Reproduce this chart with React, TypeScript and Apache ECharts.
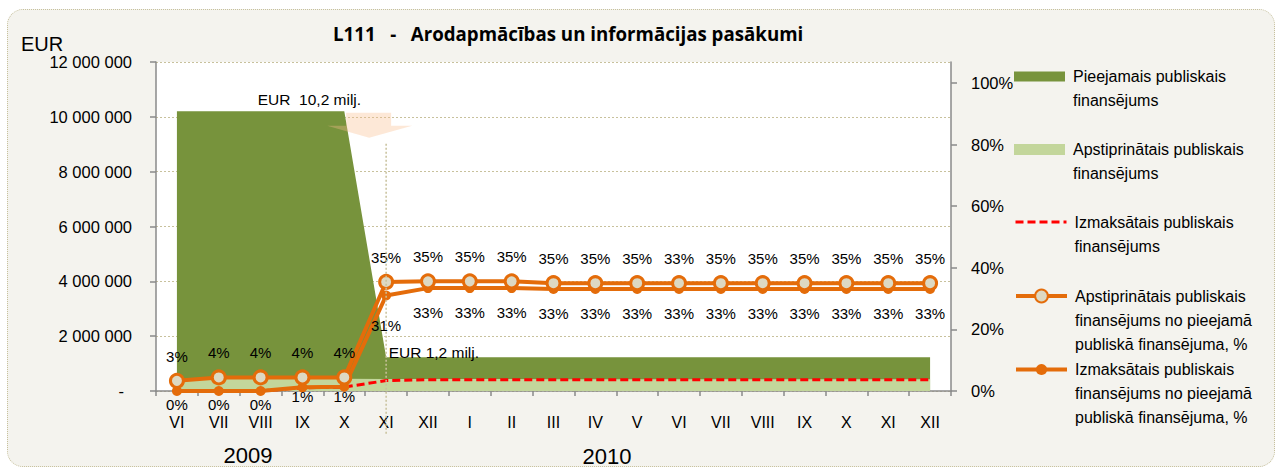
import React, { useEffect, useRef } from "react";
import * as echarts from "echarts";

// ---------- data ----------
const months2009 = ["VI", "VII", "VIII", "IX", "X", "XI", "XII"];
const months2010 = ["I", "II", "III", "IV", "V", "VI", "VII", "VIII", "IX", "X", "XI", "XII"];
const years = ["2009", "2010"];
const categories = [
  ...months2009.map((m) => `${m} ${years[0]}`),
  ...months2010.map((m) => `${m} ${years[1]}`),
];

const seriesNames = [
  "Pieejamais publiskais finansējums",
  "Apstiprinātais publiskais finansējums",
  "Izmaksātais publiskais finansējums",
  "Apstiprinātais publiskais finansējums no pieejamā publiskā finansējuma, %",
  "Izmaksātais publiskais finansējums no pieejamā publiskā finansējuma, %",
];

// EUR
const availableEur = [
  10200000, 10200000, 10200000, 10200000, 10200000,
  1230000, 1230000, 1230000, 1230000, 1230000, 1230000, 1230000,
  1230000, 1230000, 1230000, 1230000, 1230000, 1230000, 1230000,
];
const approvedEur = [
  340000, 450000, 450000, 450000, 450000,
  435000, 438000, 438000, 438000, 430000, 430000, 430000,
  430000, 430000, 430000, 430000, 430000, 430000, 430000,
];
const paidEur = [
  0, 0, 0, 120000, 140000,
  380000, 410000, 410000, 410000, 408000, 408000, 408000,
  408000, 408000, 408000, 408000, 408000, 408000, 408000,
];

// shares
const approvedPct = [
  0.033, 0.044, 0.044, 0.044, 0.044,
  0.354, 0.356, 0.356, 0.356, 0.35, 0.35, 0.35,
  0.35, 0.35, 0.35, 0.35, 0.35, 0.35, 0.35,
];
const approvedPctLabels = [
  "3%", "4%", "4%", "4%", "4%",
  "35%", "35%", "35%", "35%", "35%", "35%", "35%",
  "33%", "35%", "35%", "35%", "35%", "35%", "35%",
];
const paidPct = [
  0, 0, 0, 0.012, 0.014,
  0.31, 0.334, 0.334, 0.334, 0.331, 0.331, 0.331,
  0.331, 0.331, 0.331, 0.331, 0.331, 0.331, 0.331,
];

const title = "L111\u00a0\u00a0\u00a0-\u00a0\u00a0\u00a0Arodapmācības un informācijas pasākumi";
const unitLabel = "EUR";
const peakNote = "EUR\u00a0\u00a010,2 milj.";
const lowNote = "EUR 1,2 milj.";
const legendLines = [
  ["Pieejamais publiskais", "finansējums"],
  ["Apstiprinātais publiskais", "finansējums"],
  ["Izmaksātais publiskais", "finansējums"],
  ["Apstiprinātais publiskais", "finansējums no pieejamā", "publiskā finansējuma, %"],
  ["Izmaksātais publiskais", "finansējums no pieejamā", "publiskā finansējuma, %"],
];

// ---------- styles ----------
const SANS = '"Liberation Sans", Arial, sans-serif';
const DARK_GREEN = "#77933c";
const LIGHT_GREEN = "#c3d69b";
const ORANGE = "#e46c0a";
const RED = "#ff0000";
const BEIGE = "#ddd9c3";
const AXIS_GRAY = "#8a8a8a";
const GRID_DOT = "#c8c19c";

const fmtThousands = (v: number) => String(Math.round(v)).replace(/\B(?=(\d{3})+(?!\d))/g, " ");

function buildOption(): any {
  const legendDefs = [
    { icon: "rect", itemHeight: 10, center: 76.5 },
    { icon: "rect", itemHeight: 11, center: 149.5 },
    { icon: undefined, itemHeight: 14, center: 222, lineWidth: 3, hideSymbol: true },
    { icon: undefined, itemHeight: 16, center: 296, lineWidth: 4 },
    { icon: undefined, itemHeight: 14, center: 369.5, lineWidth: 4 },
  ];
  const LH = 24;
  const legend = legendDefs.map((d, i) => {
    const lines = legendLines[i];
    const n = lines.length;
    // leading blank lines so that the first text line sits level with the icon
    const text = [...Array(n - 1).fill(""), ...lines].join("\n");
    const item: any = { name: seriesNames[i] };
    if (d.icon) item.icon = d.icon;
    if (d.hideSymbol) item.itemStyle = { opacity: 0 };
    const lg: any = {
      orient: "vertical",
      left: 1014,
      top: d.center - ((2 * n - 1) * LH) / 2,
      padding: 0,
      itemWidth: 51,
      itemHeight: d.itemHeight,
      selectedMode: false,
      data: [item],
      formatter: () => text,
      textStyle: {
        fontFamily: SANS,
        fontSize: 16,
        lineHeight: LH,
        color: "#000",
        padding: [0, 0, 0, 3],
      },
    };
    if (d.lineWidth) lg.lineStyle = { width: d.lineWidth };
    return lg;
  });

  const labelFont = { fontFamily: SANS, fontSize: 15, color: "#000" };

  return {
    animation: false,
    backgroundColor: "transparent",
    title: {
      text: title,
      left: 333,
      top: 24,
      padding: 0,
      textStyle: { fontFamily: '"Open Sans", "Liberation Sans", sans-serif', fontWeight: "bold", fontSize: 18.7, color: "#000" },
    },
    legend,
    grid: {
      left: 156,
      right: 325,
      top: 62,
      bottom: 77,
      show: true,
      backgroundColor: "#ffffff",
      borderWidth: 0,
    },
    xAxis: {
      type: "category",
      data: categories,
      boundaryGap: true,
      axisLine: { show: true, lineStyle: { color: AXIS_GRAY, width: 1.5 } },
      axisTick: { show: true, length: 5, lineStyle: { color: AXIS_GRAY, width: 1.5 } },
      axisLabel: {
        interval: 0,
        margin: 23,
        formatter: (v: string) => v.split(" ")[0],
        fontFamily: SANS,
        fontSize: 16,
        color: "#000",
      },
      splitLine: { show: false },
    },
    yAxis: [
      {
        type: "value",
        min: 0,
        max: 12000000,
        interval: 2000000,
        axisLine: { show: true, lineStyle: { color: AXIS_GRAY, width: 1.5 } },
        axisTick: { show: true, length: 6, lineStyle: { color: AXIS_GRAY, width: 1.5 } },
        axisLabel: {
          margin: 24,
          fontFamily: SANS,
          fontSize: 16.5,
          color: "#000",
          formatter: (v: number) => (v === 0 ? "{d|-}" : fmtThousands(v)),
          rich: { d: { fontFamily: SANS, fontSize: 16.5, color: "#000", padding: [0, 8, 0, 0] } },
        },
        splitLine: { show: true, lineStyle: { color: GRID_DOT, type: [2, 2], width: 1 } },
      },
      {
        type: "value",
        position: "right",
        min: 0,
        max: 1.068,
        interval: 0.2,
        axisLine: { show: true, lineStyle: { color: AXIS_GRAY, width: 1.5 } },
        axisTick: { show: true, length: 6, lineStyle: { color: AXIS_GRAY, width: 1.5 } },
        axisLabel: {
          margin: 20,
          showMaxLabel: false,
          fontFamily: SANS,
          fontSize: 16.5,
          color: "#000",
          formatter: (v: number) => (v > 1.001 ? "" : `${Math.round(v * 100)}%`),
        },
        splitLine: { show: false },
      },
    ],
    series: [
      {
        name: seriesNames[0],
        type: "line",
        yAxisIndex: 0,
        data: availableEur,
        symbol: "none",
        z: 1,
        itemStyle: { color: DARK_GREEN },
        lineStyle: { color: DARK_GREEN, width: 0 },
        areaStyle: { color: DARK_GREEN, opacity: 1 },
        markPoint: {
          silent: true,
          symbol: "circle",
          symbolSize: 1,
          itemStyle: { color: "rgba(0,0,0,0)" },
          data: [
            {
              coord: [categories[3], availableEur[3]],
              label: {
                show: true,
                formatter: peakNote,
                position: "top",
                distance: 3,
                offset: [7, 0],
                fontFamily: SANS,
                fontSize: 15.5,
                color: "#000",
              },
            },
            {
              coord: [categories[5], availableEur[5]],
              label: {
                show: true,
                formatter: lowNote,
                position: [3, -4],
                align: "left",
                verticalAlign: "middle",
                fontFamily: SANS,
                fontSize: 15.5,
                color: "#000",
              },
            },
          ],
        },
      },
      {
        name: seriesNames[1],
        type: "line",
        yAxisIndex: 0,
        data: approvedEur,
        symbol: "none",
        z: 2,
        itemStyle: { color: LIGHT_GREEN },
        lineStyle: { color: LIGHT_GREEN, width: 0 },
        areaStyle: { color: LIGHT_GREEN, opacity: 1 },
      },
      {
        name: seriesNames[2],
        type: "line",
        yAxisIndex: 0,
        data: paidEur,
        symbol: "none",
        z: 3,
        itemStyle: { color: RED },
        lineStyle: { color: RED, width: 3, type: [8, 4] },
      },
      {
        name: seriesNames[3],
        type: "line",
        yAxisIndex: 1,
        data: approvedPct,
        symbol: "circle",
        symbolSize: 13,
        z: 5,
        itemStyle: { color: BEIGE, borderColor: ORANGE, borderWidth: 3 },
        lineStyle: { color: ORANGE, width: 4 },
        label: {
          show: true,
          position: "top",
          distance: 9,
          formatter: (p: any) => approvedPctLabels[p.dataIndex],
          ...labelFont,
        },
      },
      {
        name: seriesNames[4],
        type: "line",
        yAxisIndex: 1,
        z: 4,
        data: paidPct.map((v, i) => ({
          value: v,
          label: { distance: i < 5 ? (v < 0.005 ? 1 : -3) : i === 5 ? 17 : 12 },
        })),
        symbol: "circle",
        symbolSize: 10,
        itemStyle: { color: ORANGE },
        lineStyle: { color: ORANGE, width: 4 },
        label: {
          show: true,
          position: "bottom",
          formatter: (p: any) => `${Math.round(p.value * 100)}%`,
          ...labelFont,
        },
      },
    ],
  };
}

export default function App() {
  const ref = useRef<HTMLDivElement>(null);

  useEffect(() => {
    const el = ref.current;
    if (!el) return;
    const chart = echarts.init(el, null, { renderer: "svg" });
    chart.setOption(buildOption());

    const xXI = chart.convertToPixel({ xAxisIndex: 0 }, categories[5]) as number;
    const yPeak = chart.convertToPixel({ yAxisIndex: 0 }, availableEur[0]) as number;
    const arrowTop = yPeak + 1.5;

    chart.setOption({
      graphic: [
        {
          type: "text",
          id: "unit",
          x: 21,
          y: 44,
          silent: true,
          style: {
            text: unitLabel,
            fontFamily: SANS,
            fontSize: 20,
            fill: "#000",
            align: "left",
            verticalAlign: "middle",
          },
        },
        {
          type: "text",
          id: "y2009",
          x: 248,
          y: 455,
          silent: true,
          style: {
            text: years[0],
            fontFamily: SANS,
            fontSize: 22,
            fill: "#000",
            align: "center",
            verticalAlign: "middle",
          },
        },
        {
          type: "text",
          id: "y2010",
          x: 607,
          y: 456,
          silent: true,
          style: {
            text: years[1],
            fontFamily: SANS,
            fontSize: 22,
            fill: "#000",
            align: "center",
            verticalAlign: "middle",
          },
        },
        {
          type: "polygon",
          id: "arrow",
          z: 50,
          silent: true,
          shape: {
            points: [
              [xXI - 40, arrowTop],
              [xXI + 5, arrowTop],
              [xXI + 5, arrowTop + 13],
              [xXI + 26, arrowTop + 13],
              [xXI - 17, arrowTop + 25],
              [xXI - 59, arrowTop + 13],
              [xXI - 40, arrowTop + 13],
            ],
          },
          style: { fill: "rgba(248,190,140,0.35)", stroke: "none" },
        },
        {
          type: "line",
          id: "divider",
          z: 50,
          silent: true,
          shape: { x1: xXI, y1: arrowTop + 31, x2: xXI, y2: 435 },
          style: { stroke: GRID_DOT, lineWidth: 1.5, lineDash: [2, 2] },
        },
      ],
    });

    return () => chart.dispose();
  }, []);

  return (
    <>
      <div
        style={{
          position: "absolute",
          left: 7,
          top: 9,
          width: 1268,
          height: 458,
          boxSizing: "border-box",
          border: "1px dotted #c6c09c",
          borderRadius: 16,
          background: "#f4f3ee",
        }}
      />
      <div ref={ref} style={{ position: "absolute", left: 0, top: 0, width: 1276, height: 468 }} />
    </>
  );
}
